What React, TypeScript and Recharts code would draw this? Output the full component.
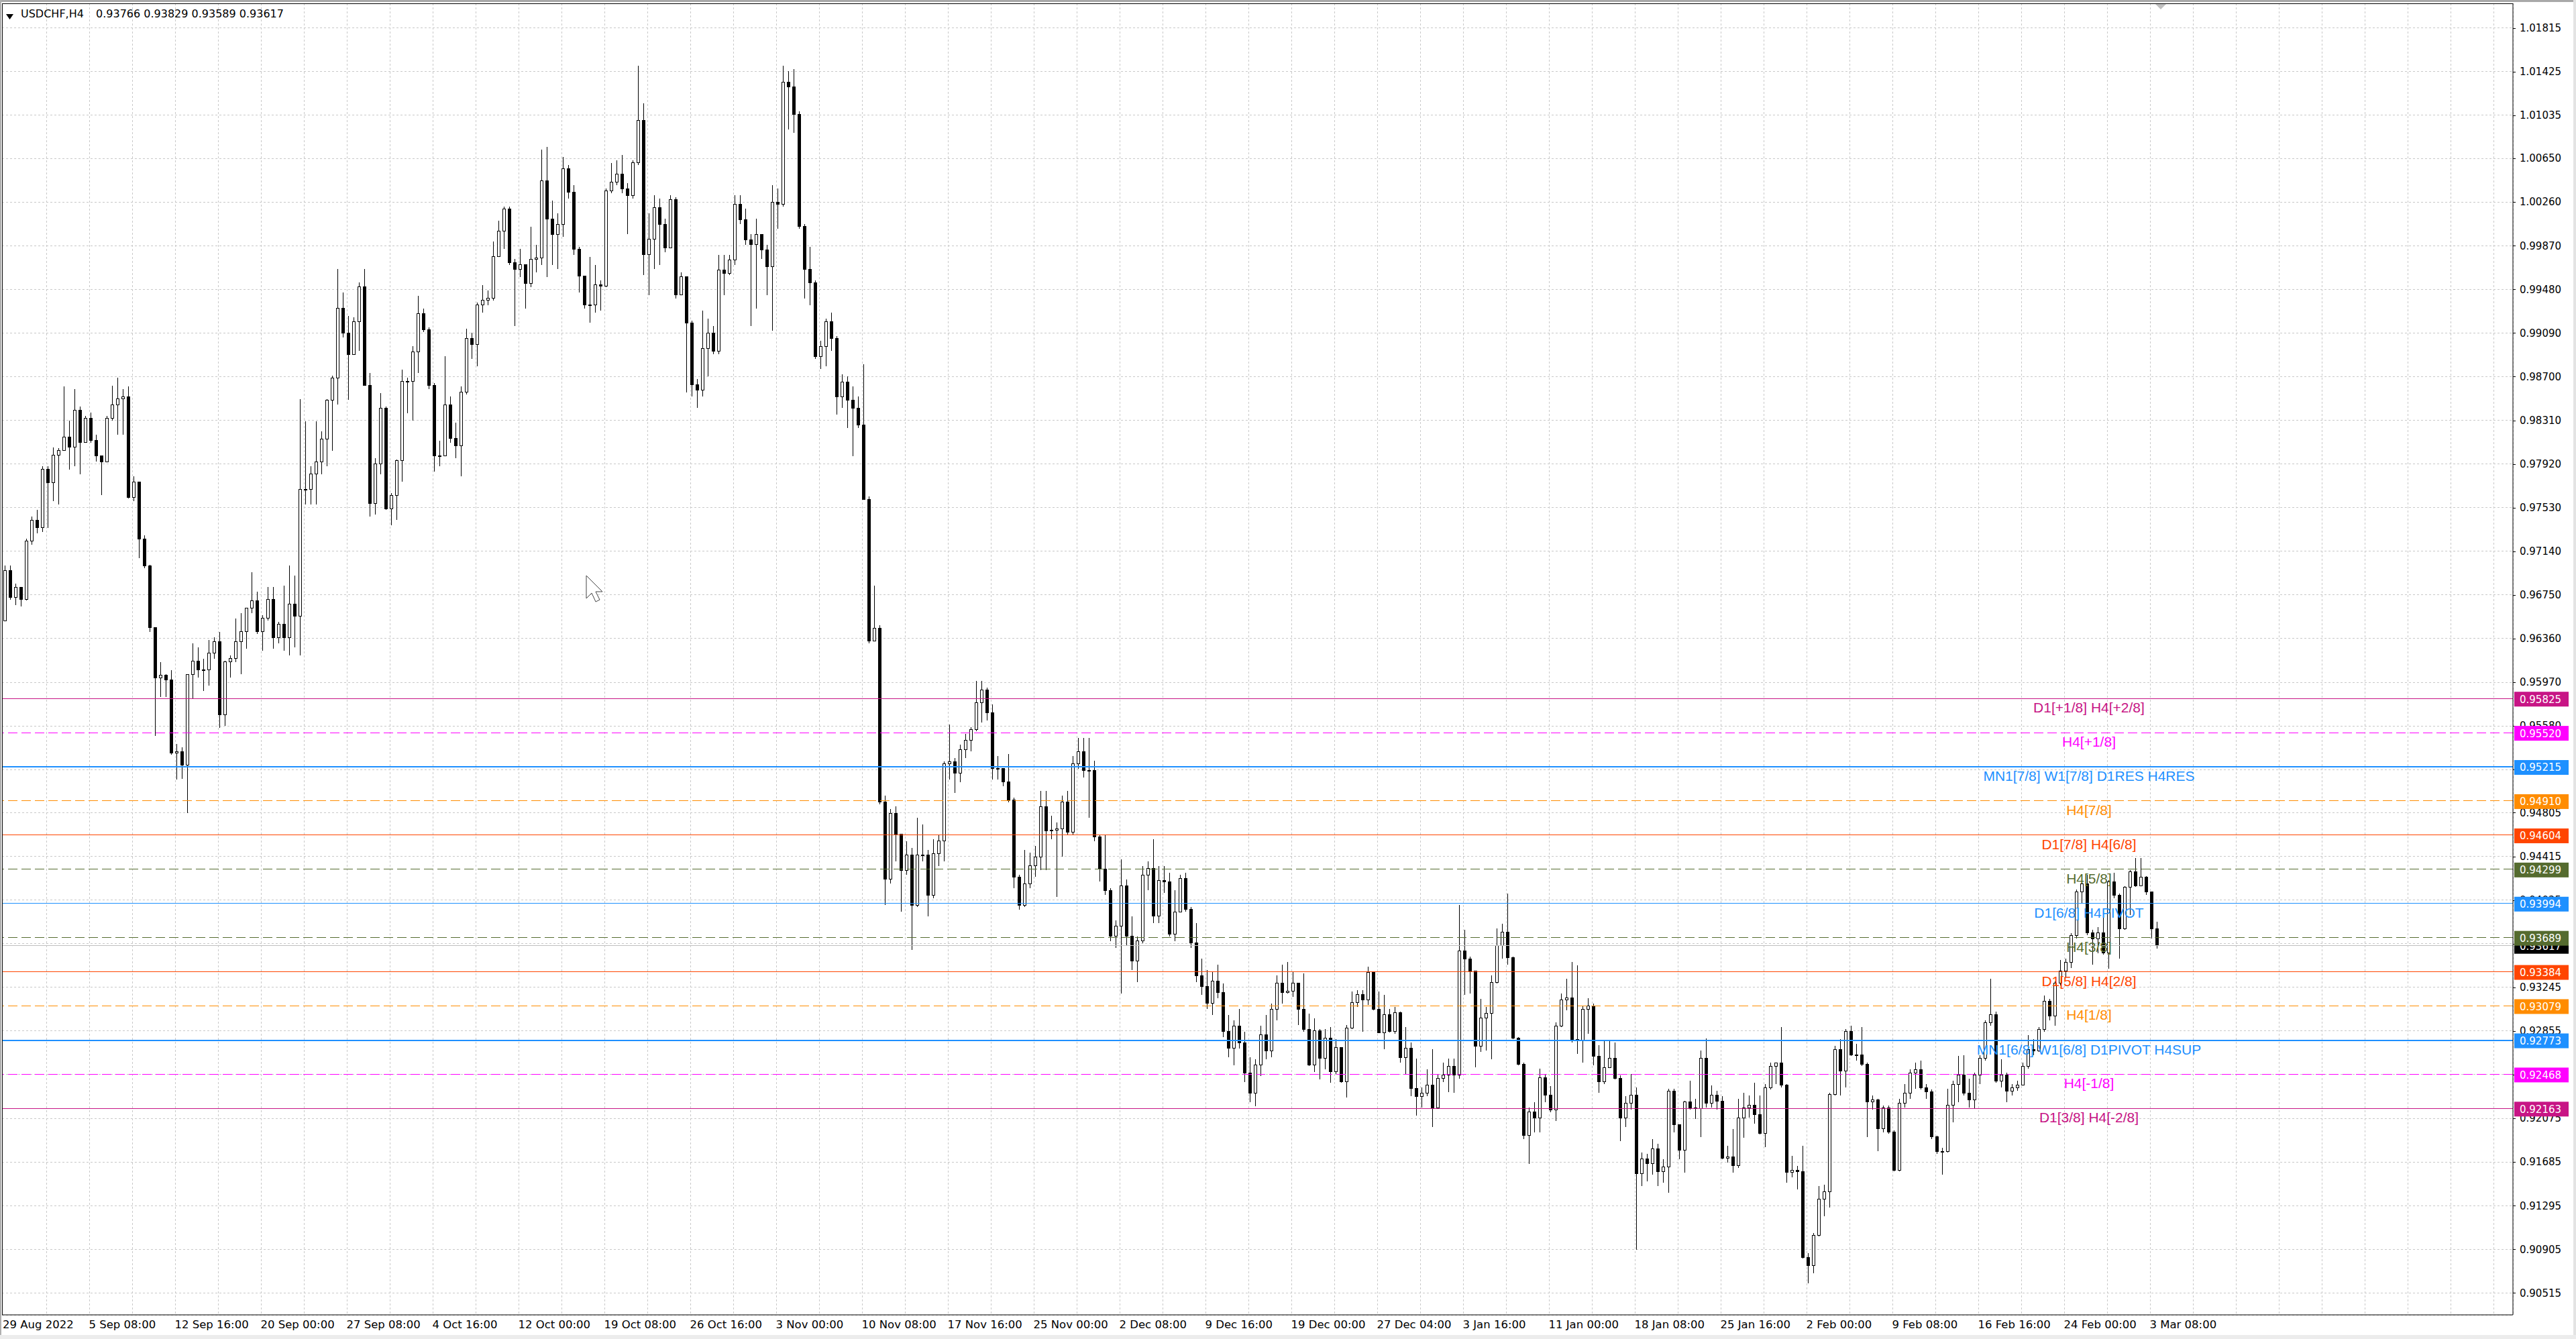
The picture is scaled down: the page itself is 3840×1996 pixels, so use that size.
import React from 'react';
import { ComposedChart, Bar, XAxis, YAxis, CartesianGrid, ReferenceLine } from 'recharts';

// ---------- data (USDCHF H4, one candle = two H4 bars) ----------
const firstOpen = 0.9652;
const highs = [
0.9701,0.9701,0.9685,0.9682,0.9725,0.9745,0.9751,0.9790,0.9790,0.9807,
0.9806,0.9861,0.9831,0.9859,0.9843,0.9835,0.9838,0.9818,0.9799,0.9835,
0.9862,0.9869,0.9859,0.9861,0.9781,0.9776,0.9728,0.9702,0.9646,0.9615,
0.9604,0.9608,0.9542,0.9539,0.9604,0.9632,0.9628,0.9618,0.9635,0.9637,
0.9642,0.9616,0.9621,0.9654,0.9659,0.9663,0.9695,0.9678,0.9657,0.9682,
0.9682,0.9651,0.9683,0.9701,0.9692,0.9850,0.9830,0.9790,0.9830,0.9821,
0.9850,0.9871,0.9966,0.9945,0.9924,0.9923,0.9954,0.9966,0.9873,0.9797,
0.9855,0.9843,0.9766,0.9796,0.9876,0.9869,0.9897,0.9942,0.9931,0.9914,
0.9864,0.9813,0.9888,0.9852,0.9829,0.9861,0.9913,0.9909,0.9936,0.9952,
0.9947,0.9991,1.0009,1.0022,1.0022,0.9975,0.9984,0.9970,1.0004,0.9988,
1.0073,1.0075,1.0027,1.0016,1.0066,1.0059,1.0041,0.9986,0.9956,0.9977,
0.9970,0.9956,1.0038,1.0061,1.0063,1.0068,1.0043,1.0063,1.0148,1.0114,
1.0016,1.0032,1.0029,1.0011,1.0032,1.0030,0.9963,0.9952,0.9920,0.9868,
0.9929,0.9922,0.9915,0.9979,0.9979,0.9979,1.0032,1.0032,1.0020,0.9997,
1.0011,0.9995,0.9988,1.0041,1.0038,1.0148,1.0143,1.0145,1.0107,1.0006,
0.9986,0.9956,0.9902,0.9922,0.9927,0.9906,0.9872,0.9870,0.9861,0.9852,
0.9881,0.9763,0.9683,0.9648,0.9496,0.9484,0.9486,0.9459,0.9455,0.9449,
0.9476,0.9470,0.9447,0.9457,0.9461,0.9526,0.9559,0.9529,0.9541,0.9551,
0.9557,0.9598,0.9598,0.9592,0.9577,0.9531,0.9520,0.9533,0.9494,0.9425,
0.9447,0.9445,0.9451,0.9500,0.9500,0.9478,0.9472,0.9496,0.9500,0.9531,
0.9547,0.9547,0.9547,0.9527,0.9461,0.9461,0.9413,0.9384,0.9439,0.9421,
0.9388,0.9370,0.9433,0.9437,0.9457,0.9433,0.9433,0.9427,0.9411,0.9425,
0.9427,0.9396,0.9382,0.9350,0.9340,0.9338,0.9345,0.9328,0.9300,0.9295,
0.9305,0.9285,0.9262,0.9260,0.9290,0.9300,0.9310,0.9335,0.9345,0.9347,
0.9338,0.9327,0.9337,0.9301,0.9297,0.9287,0.9287,0.9289,0.9278,0.9261,
0.9291,0.9321,0.9322,0.9322,0.9343,0.9329,0.9321,0.9318,0.9305,0.9307,
0.9303,0.9289,0.9275,0.9261,0.9235,0.9251,0.9269,0.9247,0.9257,0.9261,
0.9261,0.9398,0.9376,0.9352,0.9339,0.9314,0.9307,0.9335,0.9377,0.9381,
0.9408,0.9352,0.9280,0.9257,0.9217,0.9222,0.9252,0.9247,0.9236,0.9293,
0.9319,0.9332,0.9347,0.9344,0.9308,0.9315,0.9310,0.9273,0.9277,0.9277,
0.9275,0.9246,0.9227,0.9247,0.9235,0.9177,0.9176,0.9189,0.9185,0.9171,
0.9234,0.9234,0.9202,0.9223,0.9241,0.9225,0.9268,0.9279,0.9237,0.9232,
0.9227,0.9183,0.9198,0.9225,0.9230,0.9228,0.9239,0.9228,0.9238,0.9257,
0.9257,0.9289,0.9238,0.9174,0.9165,0.9183,0.9087,0.9105,0.9147,0.9148,
0.9230,0.9272,0.9278,0.9287,0.9290,0.9274,0.9289,0.9257,0.9228,0.9225,
0.9219,0.9219,0.9197,0.9225,0.9238,0.9251,0.9257,0.9259,0.9238,0.9233,
0.9192,0.9181,0.9234,0.9241,0.9263,0.9264,0.9243,0.9248,0.9264,0.9295,
0.9332,0.9303,0.9260,0.9248,0.9238,0.9241,0.9257,0.9282,0.9278,0.9289,
0.9317,0.9314,0.9330,0.9349,0.9350,0.9373,0.9412,0.9421,0.9425,0.9376,
0.9378,0.9389,0.9420,0.9427,0.9408,0.9415,0.9429,0.9440,0.9440,0.9424,
0.9410,0.93829];
const lows = [
0.9652,0.9671,0.9666,0.9665,0.9670,0.9720,0.9730,0.9731,0.9735,0.9759,
0.9756,0.9804,0.9787,0.9790,0.9783,0.9811,0.9811,0.9794,0.9764,0.9794,
0.9831,0.9818,0.9818,0.9761,0.9759,0.9708,0.9699,0.9642,0.9549,0.9584,
0.9584,0.9532,0.9510,0.9511,0.9480,0.9582,0.9601,0.9589,0.9594,0.9618,
0.9556,0.9558,0.9601,0.9615,0.9604,0.9627,0.9659,0.9640,0.9625,0.9652,
0.9627,0.9632,0.9625,0.9621,0.9628,0.9621,0.9756,0.9756,0.9756,0.9783,
0.9790,0.9804,0.9845,0.9905,0.9849,0.9892,0.9893,0.9862,0.9745,0.9747,
0.9783,0.9751,0.9737,0.9742,0.9776,0.9837,0.9831,0.9873,0.9910,0.9859,
0.9785,0.9790,0.9806,0.9811,0.9797,0.9781,0.9854,0.9886,0.9879,0.9927,
0.9934,0.9938,0.9977,0.9984,0.9970,0.9915,0.9959,0.9931,0.9950,0.9963,
0.9970,0.9959,0.9970,0.9966,0.9995,1.0029,0.9979,0.9945,0.9931,0.9918,
0.9927,0.9929,0.9950,1.0034,1.0041,1.0034,0.9997,1.0029,1.0059,0.9961,
0.9943,0.9966,0.9970,0.9981,1.0002,0.9940,0.9943,0.9856,0.9852,0.9842,
0.9852,0.9870,0.9890,0.9890,0.9943,0.9961,0.9970,1.0006,0.9988,0.9915,
0.9931,0.9975,0.9943,0.9911,1.0002,1.0022,1.0091,1.0088,1.0002,0.9940,
0.9934,0.9886,0.9877,0.9879,0.9893,0.9836,0.9842,0.9824,0.9799,0.9824,
0.9760,0.9632,0.9634,0.9488,0.9398,0.9417,0.9437,0.9392,0.9425,0.9358,
0.9396,0.9437,0.9388,0.9404,0.9433,0.9437,0.9510,0.9498,0.9508,0.9529,
0.9535,0.9553,0.9561,0.9563,0.9510,0.9510,0.9504,0.9490,0.9413,0.9394,
0.9396,0.9413,0.9423,0.9429,0.9429,0.9457,0.9405,0.9441,0.9461,0.9461,
0.9520,0.9512,0.9476,0.9455,0.9419,0.9407,0.9366,0.9360,0.9319,0.9362,
0.9340,0.9329,0.9364,0.9411,0.9382,0.9382,0.9409,0.9370,0.9366,0.9398,
0.9392,0.9360,0.9329,0.9318,0.9305,0.9300,0.9315,0.9280,0.9262,0.9255,
0.9270,0.9240,0.9222,0.9218,0.9245,0.9260,0.9262,0.9295,0.9310,0.9319,
0.9316,0.9291,0.9285,0.9254,0.9249,0.9242,0.9251,0.9239,0.9247,0.9239,
0.9226,0.9287,0.9307,0.9285,0.9309,0.9304,0.9284,0.9269,0.9284,0.9283,
0.9257,0.9247,0.9227,0.9210,0.9217,0.9227,0.9200,0.9216,0.9240,0.9231,
0.9230,0.9243,0.9318,0.9319,0.9253,0.9267,0.9268,0.9260,0.9328,0.9350,
0.9345,0.9278,0.9255,0.9189,0.9167,0.9195,0.9195,0.9222,0.9213,0.9205,
0.9289,0.9304,0.9275,0.9265,0.9257,0.9283,0.9255,0.9230,0.9238,0.9253,
0.9242,0.9187,0.9200,0.9215,0.9090,0.9147,0.9151,0.9157,0.9147,0.9150,
0.9141,0.9195,0.9171,0.9159,0.9215,0.9207,0.9191,0.9217,0.9217,0.9215,
0.9171,0.9168,0.9159,0.9163,0.9190,0.9208,0.9203,0.9193,0.9182,0.9233,
0.9238,0.9235,0.9150,0.9155,0.9144,0.9082,0.9060,0.9069,0.9102,0.9120,
0.9128,0.9228,0.9228,0.9235,0.9263,0.9259,0.9254,0.9191,0.9215,0.9178,
0.9195,0.9194,0.9160,0.9160,0.9217,0.9225,0.9234,0.9233,0.9225,0.9189,
0.9176,0.9157,0.9177,0.9204,0.9222,0.9228,0.9217,0.9216,0.9238,0.9259,
0.9290,0.9239,0.9235,0.9222,0.9228,0.9232,0.9237,0.9252,0.9264,0.9267,
0.9285,0.9295,0.9290,0.9326,0.9334,0.9342,0.9368,0.9399,0.9371,0.9345,
0.9355,0.9354,0.9341,0.9404,0.9350,0.9376,0.9389,0.9414,0.9420,0.9407,
0.9368,0.93589];
const closes = [
0.9697,0.9673,0.9682,0.9671,0.9723,0.9742,0.9735,0.9787,0.9775,0.9800,
0.9804,0.9816,0.9807,0.9840,0.9811,0.9833,0.9813,0.9799,0.9794,0.9833,
0.9845,0.9850,0.9852,0.9762,0.9776,0.9725,0.9701,0.9646,0.9601,0.9603,
0.9599,0.9534,0.9535,0.9523,0.9604,0.9616,0.9608,0.9608,0.9623,0.9633,
0.9568,0.9615,0.9618,0.9633,0.9642,0.9663,0.9670,0.9642,0.9654,0.9671,
0.9637,0.9649,0.9637,0.9667,0.9656,0.9769,0.9769,0.9783,0.9794,0.9814,
0.9849,0.9869,0.9931,0.9909,0.9890,0.9919,0.9950,0.9862,0.9757,0.9792,
0.9842,0.9752,0.9764,0.9795,0.9866,0.9866,0.9892,0.9926,0.9912,0.9862,
0.9799,0.9799,0.9845,0.9815,0.9808,0.9856,0.9904,0.9899,0.9934,0.9938,
0.9940,0.9977,1.0000,1.0020,0.9972,0.9966,0.9970,0.9953,0.9975,0.9976,
1.0045,1.0011,0.9997,1.0006,1.0056,1.0035,0.9984,0.9960,0.9934,0.9934,
0.9952,0.9951,1.0036,1.0044,1.0051,1.0038,1.0032,1.0061,1.0099,0.9979,
0.9993,1.0021,1.0006,0.9985,1.0028,0.9943,0.9959,0.9918,0.9863,0.9858,
0.9895,0.9909,0.9893,0.9965,0.9962,0.9974,1.0024,1.0010,0.9992,0.9988,
0.9997,0.9983,0.9968,1.0026,1.0024,1.0133,1.0129,1.0104,1.0004,0.9966,
0.9954,0.9888,0.9897,0.9919,0.9904,0.9852,0.9865,0.9849,0.9842,0.9827,
0.9760,0.9634,0.9645,0.9490,0.9421,0.9480,0.9461,0.9429,0.9443,0.9398,
0.9443,0.9443,0.9407,0.9444,0.9455,0.9524,0.9526,0.9516,0.9537,0.9545,
0.9555,0.9579,0.9590,0.9570,0.9520,0.9520,0.9508,0.9492,0.9423,0.9398,
0.9417,0.9433,0.9441,0.9486,0.9464,0.9465,0.9466,0.9490,0.9463,0.9524,
0.9535,0.9518,0.9518,0.9459,0.9430,0.9411,0.9370,0.9379,0.9415,0.9370,
0.9348,0.9366,0.9425,0.9431,0.9388,0.9420,0.9419,0.9372,0.9392,0.9422,
0.9394,0.9364,0.9335,0.9325,0.9310,0.9330,0.9320,0.9285,0.9270,0.9290,
0.9275,0.9248,0.9230,0.9255,0.9282,0.9268,0.9305,0.9328,0.9320,0.9321,
0.9328,0.9305,0.9287,0.9255,0.9286,0.9261,0.9279,0.9249,0.9271,0.9240,
0.9288,0.9311,0.9318,0.9313,0.9338,0.9305,0.9284,0.9300,0.9285,0.9302,
0.9262,0.9270,0.9234,0.9227,0.9230,0.9237,0.9217,0.9243,0.9246,0.9254,
0.9246,0.9357,0.9350,0.9339,0.9272,0.9297,0.9301,0.9329,0.9362,0.9374,
0.9351,0.9279,0.9256,0.9192,0.9213,0.9208,0.9244,0.9228,0.9215,0.9290,
0.9313,0.9315,0.9278,0.9277,0.9305,0.9308,0.9263,0.9240,0.9253,0.9261,
0.9243,0.9208,0.9221,0.9228,0.9158,0.9171,0.9167,0.9180,0.9160,0.9164,
0.9232,0.9202,0.9179,0.9222,0.9217,0.9216,0.9261,0.9221,0.9228,0.9223,
0.9172,0.9173,0.9165,0.9208,0.9217,0.9219,0.9211,0.9194,0.9235,0.9254,
0.9257,0.9237,0.9159,0.9161,0.9160,0.9083,0.9076,0.9103,0.9135,0.9142,
0.9229,0.9269,0.9250,0.9285,0.9264,0.9264,0.9256,0.9222,0.9224,0.9198,
0.9217,0.9195,0.9161,0.9221,0.9230,0.9248,0.9251,0.9235,0.9231,0.9191,
0.9178,0.9178,0.9219,0.9238,0.9246,0.9230,0.9224,0.9246,0.9261,0.9293,
0.9300,0.9241,0.9246,0.9232,0.9235,0.9237,0.9254,0.9269,0.9268,0.9287,
0.9312,0.9299,0.9328,0.9339,0.9347,0.9371,0.9410,0.9417,0.9373,0.9368,
0.9373,0.9355,0.9419,0.9407,0.9377,0.9414,0.9428,0.9415,0.9423,0.9410,
0.9377,0.93617];

const firstDateLabel = '29 Aug 2022';
const dateLabels = ['5 Sep 08:00','12 Sep 16:00','20 Sep 00:00','27 Sep 08:00','4 Oct 16:00','12 Oct 00:00',
  '19 Oct 08:00','26 Oct 16:00','3 Nov 00:00','10 Nov 08:00','17 Nov 16:00','25 Nov 00:00','2 Dec 08:00',
  '9 Dec 16:00','19 Dec 00:00','27 Dec 04:00','3 Jan 16:00','11 Jan 00:00','18 Jan 08:00','25 Jan 16:00',
  '2 Feb 00:00','9 Feb 08:00','16 Feb 16:00','24 Feb 00:00','3 Mar 08:00'];

const priceTicks = [1.01815,1.01425,1.01035,1.00650,1.00260,0.99870,0.99480,0.99090,0.98700,0.98310,
  0.97920,0.97530,0.97140,0.96750,0.96360,0.95970,0.95580,0.95190,0.94805,0.94415,0.94025,0.93635,
  0.93245,0.92855,0.92465,0.92075,0.91685,0.91295,0.90905,0.90515];

const levelPrices = [0.95825,0.95520,0.95215,0.94910,0.94604,0.94299,0.93994,0.93689,0.93384,0.93079,0.92773,0.92468,0.92163];
const levelNames = ['D1[+1/8] H4[+2/8]','H4[+1/8]','MN1[7/8] W1[7/8] D1RES H4RES','H4[7/8]','D1[7/8] H4[6/8]',
  'H4[5/8]','D1[6/8] H4PIVOT','H4[3/8]','D1[5/8] H4[2/8]','H4[1/8]','MN1[6/8] W1[6/8] D1PIVOT H4SUP','H4[-1/8]','D1[3/8] H4[-2/8]'];
const levelColors = ['#C71585','#FF00FF','#1E90FF','#FF8C00','#FF4500','#556B2F','#1E90FF','#556B2F','#FF4500','#FF8C00','#1E90FF','#FF00FF','#C71585'];
const levelWidths = [1,1,2,1,1,1,1,1,1,1,2,1,1];
const levelDashed = [false,true,false,true,false,true,false,true,false,true,false,true,false];

const header = { symbol: 'USDCHF,H4', o: 0.93766, h: 0.93829, l: 0.93589, c: 0.93617 };
const lastPrice = header.c;

// ---------- derived tables ----------
const candles = closes.map((c, k) => {
  const o = k === 0 ? firstOpen : closes[k - 1];
  const h = Math.max(highs[k], o, c);
  const l = Math.min(lows[k], o, c);
  return { u: 2 * k + 0.5, o, h, l, c, range: [l, h] };
});

const xTicks: number[] = [-0.625];
for (let u = 16; u <= 928; u += 16) xTicks.push(u);

// price-scale labels first, then the coloured level boxes (drawn on top of them)
const axisTicks = [...priceTicks, lastPrice, ...levelPrices];
const boxColor = (v: number) => {
  const i = levelPrices.indexOf(v);
  return i >= 0 ? levelColors[i] : '#000';
};

const AXIS_FONT = 'DejaVu Sans, Verdana, sans-serif';
const LEVEL_FONT = 'Liberation Sans, Arial, sans-serif';
const DOMAIN: [number, number] = [0.903193, 1.020343];

function Candle(props: any) {
  const { x, y, width, height, payload } = props;
  if (x == null || y == null || !payload) return <g />;
  const top = Math.min(y, y + height);
  const bot = Math.max(y, y + height);
  const span = payload.h - payload.l;
  const py = (v: number) => (span > 0 ? top + ((payload.h - v) / span) * (bot - top) : top);
  const cx = Math.floor(x + width / 2) + 0.5;
  const yo = py(payload.o);
  const yc = py(payload.c);
  const bull = payload.c >= payload.o;
  const bt = Math.min(yo, yc);
  const bb = Math.max(yo, yc);
  return (
    <g>
      <line x1={cx} x2={cx} y1={top} y2={bot} stroke="#000" strokeWidth={1} shapeRendering="crispEdges" />
      <rect x={cx - 2} y={bt} width={4} height={Math.max(bb - bt, 1)} fill={bull ? '#fff' : '#000'}
        stroke="#000" strokeWidth={1} shapeRendering="crispEdges" />
    </g>
  );
}

function XTick(props: any) {
  const { x, y, payload } = props;
  const v = payload && payload.value;
  let label = '';
  if (v < 0) label = firstDateLabel;
  else if (v % 32 === 0) label = dateLabels[v / 32 - 1] || '';
  if (!label) return <g />;
  return (
    <text x={v < 0 ? x + 1 : x - 1} y={y + 18} textAnchor="start" fill="#000" fontFamily={AXIS_FONT} fontSize={16.5}>
      {label}
    </text>
  );
}

function YTick(props: any) {
  const { x, y, payload, index } = props;
  const v = payload && payload.value;
  if (v == null) return <g />;
  if (index < priceTicks.length) {
    return (
      <g>
        <line x1={x} x2={x + 4} y1={Math.round(y) + 0.5} y2={Math.round(y) + 0.5} stroke="#000" strokeWidth={1} />
        <text x={x + 10} y={y} dy="0.36em" fill="#000" fontFamily={AXIS_FONT} fontSize={15}>
          {Number(v).toFixed(5)}
        </text>
      </g>
    );
  }
  return (
    <g>
      <rect x={x + 2} y={y - 10} width={81} height={22} fill={boxColor(v)} />
      <text x={x + 10} y={y + 1} dy="0.36em" fill="#fff" fontFamily={AXIS_FONT} fontSize={15}>
        {Number(v).toFixed(5)}
      </text>
    </g>
  );
}

function makeLevelLabel(i: number) {
  return (p: any) => {
    const vb = p.viewBox || {};
    const ly = vb.y;
    const right = vb.x + vb.width;
    return (
      <text x={right - 632} y={ly + 21} textAnchor="middle" fill={levelColors[i]} fontFamily={LEVEL_FONT} fontSize={21}>
        {levelNames[i]}
      </text>
    );
  };
}

export default function App() {
  return (
    <div style={{ position: 'absolute', left: 0, top: 0, width: 3840, height: 1996, background: '#fff', overflow: 'hidden' }}>
      <ComposedChart width={3840} height={1996} data={candles} margin={{ top: 5, right: 0, bottom: 0, left: 3 }}>
        <CartesianGrid yAxisId="g" stroke="#c8c8c8" strokeDasharray="3 3" shapeRendering="crispEdges" />
        <XAxis dataKey="u" type="number" domain={[-0.625, 935.125]} allowDataOverflow ticks={xTicks} interval={0}
          tick={<XTick />} tickLine={false} tickSize={0} axisLine={{ stroke: '#000' }} height={36} />
        <YAxis yAxisId="g" orientation="right" type="number" domain={DOMAIN} allowDataOverflow ticks={priceTicks}
          interval={0} width={0} hide />
        <YAxis yAxisId="p" orientation="right" type="number" domain={DOMAIN} allowDataOverflow ticks={axisTicks}
          interval={0} width={94} tickSize={0} tickMargin={0} tick={<YTick />}
          axisLine={{ stroke: '#000' }} tickLine={false} />
        <ReferenceLine yAxisId="p" y={lastPrice} stroke="#c0c0c0" strokeWidth={1} shapeRendering="crispEdges" />
        {levelPrices.map((lp, i) => (
          <ReferenceLine key={i} yAxisId="p" y={lp} stroke={levelColors[i]} strokeWidth={levelWidths[i]}
            strokeDasharray={levelDashed[i] ? '14 6' : undefined} shapeRendering="crispEdges" label={makeLevelLabel(i)} />
        ))}
        <Bar yAxisId="p" dataKey="range" barSize={6} shape={<Candle />} isAnimationActive={false} />
      </ComposedChart>
      <svg width={3840} height={1996} style={{ position: 'absolute', left: 0, top: 0, pointerEvents: 'none' }}>
        <rect x={0} y={0} width={3840} height={3} fill="#a9a9a9" />
        <rect x={0} y={0} width={2} height={1996} fill="#b0b0b0" />
        <rect x={3836} y={0} width={4} height={1996} fill="#e3e3e3" />
        <rect x={0} y={1990} width={3840} height={6} fill="#ececec" />
        <line x1={3} x2={3746} y1={5.5} y2={5.5} stroke="#000" strokeWidth={1} />
        <line x1={3.5} x2={3.5} y1={5} y2={1960} stroke="#000" strokeWidth={1} />
        <polygon points="9,21 20,21 14.5,29" fill="#000" />
        <text x={31} y={26} fontFamily={AXIS_FONT} fontSize={16} fill="#000">{header.symbol}</text>
        <text x={143} y={26} fontFamily={AXIS_FONT} fontSize={16} fill="#000">
          {`${header.o.toFixed(5)} ${header.h.toFixed(5)} ${header.l.toFixed(5)} ${header.c.toFixed(5)}`}
        </text>
        <polygon points="3213,6 3229,6 3221,14" fill="#c0c0c0" />
        <polygon points="874,858 874,892 882,884 888,897 894,894 888,882 898,882" fill="#fff" stroke="#444" strokeWidth={1} />
      </svg>
    </div>
  );
}
